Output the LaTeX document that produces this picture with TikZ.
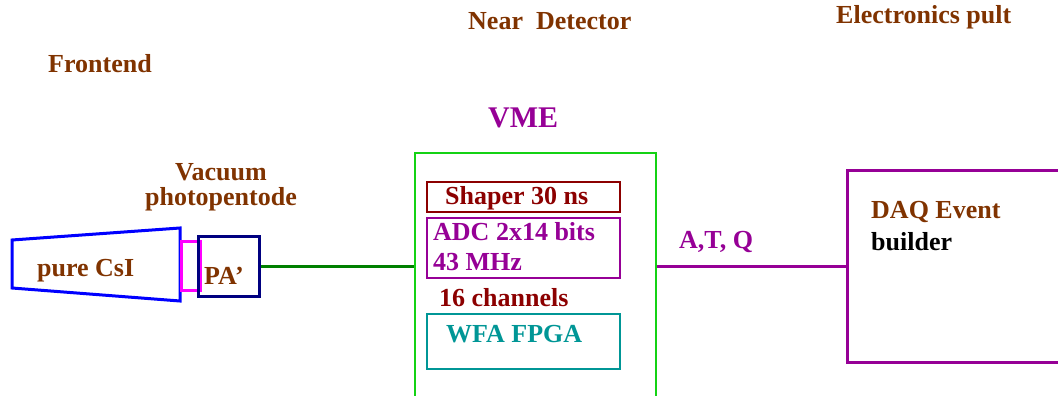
\documentclass[tikz,border=0pt]{standalone}
\usepackage{fontspec}
\setmainfont{Liberation Serif}
\definecolor{brn}{RGB}{128,51,0}
\definecolor{dred}{RGB}{140,0,0}
\definecolor{purp}{RGB}{150,0,150}
\definecolor{tealc}{RGB}{0,150,150}
\definecolor{vgreen}{RGB}{20,210,20}
\definecolor{dgreen}{RGB}{0,128,0}
\definecolor{navyc}{RGB}{0,0,128}
\definecolor{magc}{RGB}{255,0,255}
\definecolor{bluec}{RGB}{0,0,255}
\begin{document}
\begin{tikzpicture}[x=1pt,y=-1pt,
  lbl/.style={inner sep=0pt,anchor=base west,font=\fontsize{26}{28}\selectfont\bfseries},
  boxn/.style={draw,inner sep=0pt,anchor=north west}]
\useasboundingbox (0,0) rectangle (1058,396);
\fill[white] (0,0) rectangle (1058,396);
% headers
\node[lbl,text=brn] (front) at (48,73) {Frontend};
\node[lbl,text=brn] (near) at (468,30) {Near\ \ Detector};
\node[lbl,text=brn] (pult) at (836,24) {Electronics pult};
\node[lbl,text=purp,font=\fontsize{30}{32}\selectfont\bfseries] (vmet) at (488,128) {VME};
\node[lbl,text=brn,anchor=base] (vac) at (221,180) {Vacuum};
\node[lbl,text=brn,anchor=base] (pho) at (221,205) {photopentode};
% CsI crystal
\draw[bluec,line width=3pt,line join=miter] (12,240) -- (180,228) -- (180,301) -- (12,288) -- cycle;
\node[lbl,text=brn] (csi) at (37,276) {pure CsI};
% photopentode
\node[boxn,magc,line width=3pt,minimum width=19pt,minimum height=49pt] (ppt) at (180,240) {};
% PA'
\node[boxn,navyc,line width=3pt,minimum width=61pt,minimum height=60pt] (pa) at (197,235) {};
\node[lbl,text=brn] (pat) at (204,284) {PA’};
% VME crate
\node[boxn,vgreen,line width=2pt,minimum width=241pt,minimum height=260pt] (vme) at (414,152) {};
\node[boxn,dred,line width=2pt,minimum width=193pt,minimum height=30pt] (shaper) at (426,181) {};
\node[lbl,text=dred] (shapert) at (445,204) {Shaper 30 ns};
\node[boxn,purp,line width=2pt,minimum width=193pt,minimum height=60pt] (adc) at (426,217) {};
\node[lbl,text=purp] (adct1) at (433,240) {ADC 2x14 bits};
\node[lbl,text=purp] (adct2) at (433,270) {43 MHz};
\node[lbl,text=dred] (chan) at (439,306) {16 channels};
\node[boxn,tealc,line width=2pt,minimum width=193pt,minimum height=55pt] (wfa) at (426,313) {};
\node[lbl,text=tealc] (wfat) at (446,342) {WFA FPGA};
% DAQ
\node[boxn,purp,line width=3pt,minimum width=230pt,minimum height=192pt] (daq) at (846,169) {};
\node[lbl,text=brn] (daqt) at (871,218) {DAQ Event};
\node[lbl,text=black] (bld) at (871,250) {builder};
% connectors
\draw[dgreen,line width=3pt] (pa.east) -- (pa.east -| vme.west);
\coordinate (vout) at (pa.east -| vme.east);
\draw[purp,line width=3pt] (vout) -- (daq.west);
\node[lbl,text=purp] (atq) at (679,248) {A,T, Q};
\end{tikzpicture}
\end{document}
